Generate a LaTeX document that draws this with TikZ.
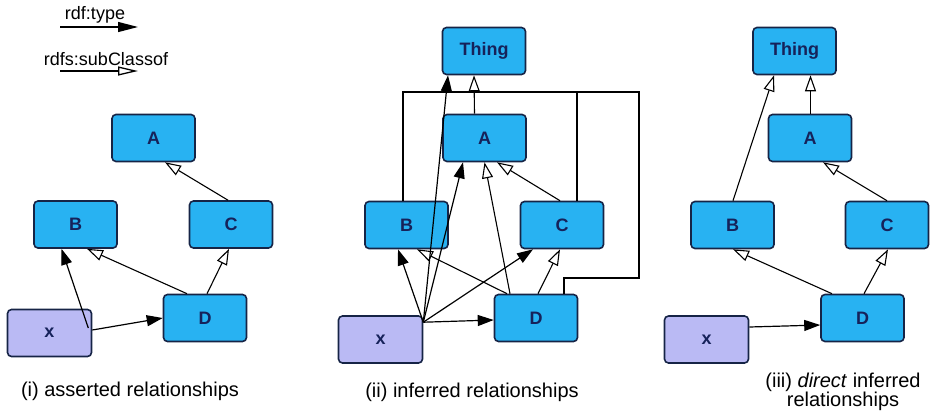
\documentclass[tikz,border=0pt]{standalone}
\usepackage{fontspec}
\setmainfont{Liberation Sans}
\usetikzlibrary{arrows.meta}
\definecolor{classfill}{RGB}{40,178,242}
\definecolor{indfill}{RGB}{186,186,244}
\definecolor{boxline}{RGB}{22,36,70}
\definecolor{boxtext}{RGB}{22,34,90}
\tikzset{
  box/.style={draw=boxline, line width=1.6pt, rounded corners=4pt,
    minimum width=83pt, minimum height=47pt, inner sep=0pt,
    font=\fontsize{18}{18}\selectfont\bfseries, text=boxtext},
  cls/.style={box, fill=classfill},
  ind/.style={box, fill=indfill, minimum width=84pt},
  typ/.style={line width=1.2pt, -{Triangle[length=16pt,width=11pt]}},
  sub/.style={line width=1.1pt, -{Triangle[open,length=16pt,width=11pt,fill=white]}},
  bus/.style={line width=1.1pt},
  caption/.style={font=\fontsize{20}{19}\selectfont, align=center},
  legend/.style={font=\fontsize{18}{18}\selectfont}
}
\begin{document}
\begin{tikzpicture}[x=1pt,y=-1pt]
\useasboundingbox (0,0) rectangle (933,413);

% legend
\node[legend] (lt) at (95,15) {rdf:type};
\coordinate (lt1) at (60,27);
\coordinate (lt2) at (138,27);
\draw[line width=1.3pt, -{Triangle[length=20pt,width=10pt]}] (lt1) -- (lt2);
\node[legend] (ls) at (106,59) {rdfs:subClassof};
\coordinate (ls1) at (60,71);
\coordinate (ls2) at (138,71);
\draw[line width=1.3pt, -{Triangle[open,length=20pt,width=9pt,fill=white]}] (ls1) -- (ls2);

% (i) asserted relationships
\node[cls] (A1) at (153.5,138) {A};
\node[cls] (B1) at (75.5,224.5) {B};
\node[cls] (C1) at (231,224.5) {C};
\node[cls] (D1) at (205,318) {D};
\node[ind] (x1) at (49.5,333) {x};
\draw[sub] ([xshift=-3]C1.north) -- ([xshift=11.5]A1.south);
\draw[sub] ([xshift=-18]D1.north) -- ([xshift=11.5]B1.south);
\draw[sub] ([xshift=2]D1.north) -- ([xshift=-2]C1.south);
\draw[typ] ([xshift=-4,yshift=5]x1.east) -- ([xshift=-14]B1.south);
\draw[typ] ([yshift=3]x1.east) -- (D1.west);
\node[caption] (cap1) at (130,391) {(i) asserted relationships};

% (ii) inferred relationships
\node[cls] (T2) at (484,51) {Thing};
\node[cls] (A2) at (484.5,138) {A};
\node[cls] (B2) at (406.5,225) {B};
\node[cls] (C2) at (562,225) {C};
\node[cls] (D2) at (536,318) {D};
\node[ind] (x2) at (380.5,339.5) {x};
\coordinate (s2) at ([yshift=-7]x2.north east);
\coordinate (busR) at (639,92);
\coordinate (busRb) at (639,278);
\draw[bus] ([xshift=-3.5]B2.north) |- (busR) -- (busRb) -| ([xshift=28]D2.north);
\draw[bus] ([xshift=15]C2.north) |- (busR);
\draw[sub] ([xshift=-10]A2.north) -- ([xshift=-10]T2.south);
\draw[sub] ([xshift=-29]D2.north) -- ([xshift=10.5]B2.south);
\draw[sub] ([xshift=-26]D2.north) -- (A2.south);
\draw[sub] ([xshift=-2]C2.north) -- ([xshift=12.5]A2.south);
\draw[sub] ([xshift=2]D2.north) -- ([xshift=-2]C2.south);
\draw[typ] (s2) -- ([xshift=-8.5]B2.south);
\draw[typ] (s2) -- ([xshift=-36]T2.south);
\draw[typ] (s2) -- ([xshift=-21.5]A2.south);
\draw[typ] (s2) -- ([xshift=-29]C2.south);
\draw[typ] (s2) -- ([yshift=-2]D2.west);
\node[caption] (cap2) at (472,392) {(ii) inferred relationships};

% (iii) direct inferred relationships
\node[cls] (T3) at (794.5,51) {Thing};
\node[cls] (A3) at (810,138) {A};
\node[cls] (B3) at (732.5,225) {B};
\node[cls] (C3) at (887,225) {C};
\node[cls] (D3) at (862.5,318) {D};
\node[ind] (x3) at (706.5,339.5) {x};
\draw[sub] ([xshift=0.5]B3.north) -- ([xshift=-20.5]T3.south);
\draw[sub] ([xshift=0.5]A3.north) -- ([xshift=16]T3.south);
\draw[sub] (C3.north) -- ([xshift=13]A3.south);
\draw[sub] ([xshift=-30.5]D3.north) -- ([xshift=0.5]B3.south);
\draw[sub] ([xshift=1.5]D3.north) -- ([xshift=1]C3.south);
\draw[typ] ([yshift=12.5]x3.east) -- ([yshift=-7]D3.west);
\node[caption] (cap3) at (843,392) {(iii) \textit{direct} inferred\\relationships};
\end{tikzpicture}
\end{document}
